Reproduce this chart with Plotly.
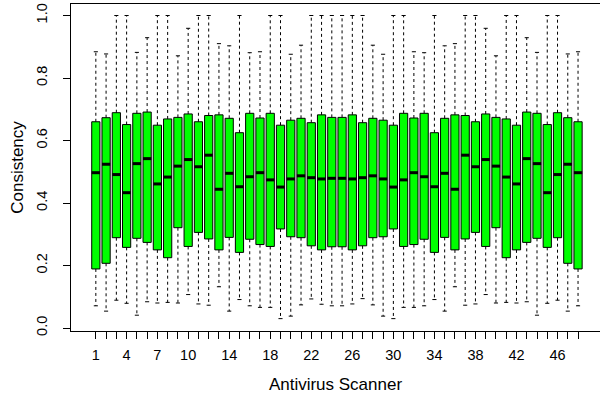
import plotly.graph_objects as go

scanners = list(range(1, 49))
upper = [0.884, 0.877, 1.0, 1.0, 0.882, 0.929, 1.0, 1.0, 0.871, 0.959, 1.0, 1.0,
         0.910, 0.903, 1.0, 0.881, 0.884, 1.0, 1.0, 0.876, 0.905, 1.0, 1.0, 1.0,
         1.0, 1.0, 1.0, 0.905, 0.876, 1.0, 1.0, 0.884, 0.881, 1.0, 0.903, 0.910,
         1.0, 1.0, 0.959, 0.871, 1.0, 1.0, 0.929, 0.882, 1.0, 1.0, 0.877, 0.884]
q3 = [0.660, 0.673, 0.689, 0.651, 0.687, 0.691, 0.649, 0.669, 0.674, 0.685, 0.660, 0.680,
      0.682, 0.671, 0.625, 0.687, 0.672, 0.687, 0.649, 0.665, 0.671, 0.657, 0.682, 0.674,
      0.674, 0.682, 0.657, 0.671, 0.665, 0.649, 0.687, 0.672, 0.687, 0.625, 0.671, 0.682,
      0.680, 0.660, 0.685, 0.674, 0.669, 0.649, 0.691, 0.687, 0.651, 0.689, 0.673, 0.660]
median = [0.497, 0.524, 0.491, 0.433, 0.526, 0.542, 0.461, 0.483, 0.518, 0.539, 0.516, 0.553,
          0.444, 0.495, 0.452, 0.484, 0.497, 0.474, 0.451, 0.477, 0.487, 0.481, 0.477, 0.479,
          0.479, 0.477, 0.481, 0.487, 0.477, 0.451, 0.474, 0.497, 0.484, 0.452, 0.495, 0.444,
          0.553, 0.516, 0.539, 0.518, 0.483, 0.461, 0.542, 0.526, 0.433, 0.491, 0.524, 0.497]
q1 = [0.189, 0.207, 0.289, 0.258, 0.287, 0.274, 0.250, 0.225, 0.321, 0.261, 0.306, 0.285,
      0.250, 0.290, 0.242, 0.284, 0.267, 0.261, 0.317, 0.292, 0.289, 0.263, 0.250, 0.260,
      0.260, 0.250, 0.263, 0.289, 0.292, 0.317, 0.261, 0.267, 0.284, 0.242, 0.290, 0.250,
      0.285, 0.306, 0.261, 0.321, 0.225, 0.250, 0.274, 0.287, 0.258, 0.289, 0.207, 0.189]
lower = [0.071, 0.054, 0.089, 0.079, 0.041, 0.084, 0.080, 0.082, 0.080, 0.107, 0.077, 0.073,
         0.132, 0.054, 0.091, 0.071, 0.066, 0.066, 0.030, 0.038, 0.074, 0.093, 0.076, 0.071,
         0.071, 0.077, 0.094, 0.074, 0.038, 0.030, 0.066, 0.066, 0.071, 0.091, 0.054, 0.132,
         0.073, 0.077, 0.107, 0.080, 0.082, 0.080, 0.084, 0.041, 0.079, 0.089, 0.054, 0.071]
labeled_ticks = [1, 4, 7, 10, 14, 18, 22, 26, 30, 34, 38, 42, 46]
y_ticks = [0.0, 0.2, 0.4, 0.6, 0.8, 1.0]
y_tick_labels = ["0.0", "0.2", "0.4", "0.6", "0.8", "1.0"]

BOX_W = 0.8
STAPLE_HALF = 0.2
FONT = "Liberation Sans, Arial, Helvetica, sans-serif"

fig = go.Figure()

# whiskers (dashed)
wx, wy = [], []
for x, u, h, l, lo in zip(scanners, upper, q3, q1, lower):
    wx += [x, x, None, x, x, None]
    wy += [h, u, None, l, lo, None]
fig.add_trace(go.Scatter(x=wx, y=wy, mode="lines",
                         line=dict(color="black", width=1, dash="3px,3px"),
                         hoverinfo="skip", showlegend=False))

# staples
sx, sy = [], []
for x, u, lo in zip(scanners, upper, lower):
    sx += [x - STAPLE_HALF, x + STAPLE_HALF, None, x - STAPLE_HALF, x + STAPLE_HALF, None]
    sy += [u, u, None, lo, lo, None]
fig.add_trace(go.Scatter(x=sx, y=sy, mode="lines",
                         line=dict(color="black", width=1),
                         hoverinfo="skip", showlegend=False))

# boxes
fig.add_trace(go.Bar(x=scanners, base=q1,
                     y=[h - l for h, l in zip(q3, q1)],
                     width=BOX_W,
                     marker=dict(color="#00ff00", line=dict(color="black", width=1)),
                     hoverinfo="skip", showlegend=False))

# medians
mx, my = [], []
for x, m in zip(scanners, median):
    mx += [x - BOX_W / 2, x + BOX_W / 2, None]
    my += [m, m, None]
fig.add_trace(go.Scatter(x=mx, y=my, mode="lines",
                         line=dict(color="black", width=3),
                         hoverinfo="skip", showlegend=False))

fig.update_layout(
    template="none",
    width=600, height=396,
    margin=dict(l=71, r=0, t=4, b=65, autoexpand=False),
    plot_bgcolor="white", paper_bgcolor="white",
    font=dict(family=FONT, size=14.5, color="black"),
    showlegend=False,
    bargap=0,
    hovermode=False,
)
fig.update_xaxes(
    automargin=False,
    range=[-1.42, 50.14],
    tickmode="array", tickvals=scanners,
    ticktext=[str(v) if v in labeled_ticks else "" for v in scanners],
    ticks="outside", ticklen=7, tickcolor="black", tickwidth=1,
    showline=True, linecolor="black", linewidth=1, mirror=True,
    showgrid=False, zeroline=False,
    tickangle=0,
    ticklabelstandoff=4,
    title=dict(text="Antivirus Scanner", standoff=15),
)
fig.update_yaxes(
    automargin=False,
    range=[-0.0096, 1.0368],
    tickmode="array", tickvals=y_ticks, ticktext=y_tick_labels,
    ticks="outside", ticklen=7, tickcolor="black", tickwidth=1,
    tickangle=-90,
    showline=True, linecolor="black", linewidth=1, mirror=False,
    showgrid=False, zeroline=False,
    ticklabelstandoff=10,
    title=dict(text="Consistency", standoff=6),
)

fig.write_html(
    "out.html",
    config={"displayModeBar": False, "staticPlot": True},
    post_script="document.body.style.margin='0';document.documentElement.style.overflow='hidden';document.body.style.overflow='hidden';",
)
